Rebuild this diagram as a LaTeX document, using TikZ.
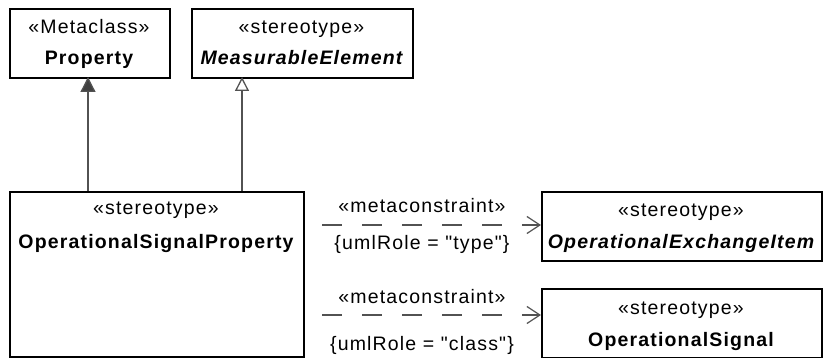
\documentclass[tikz,border=0pt]{standalone}
\usepackage{fontspec}
\setmainfont{Liberation Sans}[LetterSpace=6,Ligatures=TeXOff]
\usetikzlibrary{arrows.meta}
\begin{document}
\begin{tikzpicture}[x=1pt,y=-1pt,
  box/.style={draw=black,line width=1.6pt,inner sep=0pt,anchor=north west},
  txt/.style={font=\fontsize{19.5}{22}\selectfont,anchor=base,inner sep=0pt},
  conn/.style={draw=black!68,line width=1.3pt},
  dashconn/.style={conn,dash pattern=on 20pt off 20pt,-{Straight Barb[length=13pt,width=17pt,line width=1.2pt]}}
]
\useasboundingbox (0,0) rectangle (825,358);
% boxes
\node[box,minimum width=160pt,minimum height=69pt] (prop) at (9,8) {};
\node[box,minimum width=221pt,minimum height=69pt] (meas) at (191,8) {};
\node[box,minimum width=294pt,minimum height=165pt] (osp) at (9,191) {};
\node[box,minimum width=280pt,minimum height=69pt] (oei) at (541,191) {};
\node[box,minimum width=280pt,minimum height=69pt] (os) at (541,288) {};
% texts
\node[txt] (propS) at (89,34) {«Metaclass»};
\node[txt] (propN) at (89,65) {\bfseries Property};
\node[txt] (measS) at (301.5,34) {«stereotype»};
\node[txt] (measN) at (301.5,65) {\bfseries\itshape MeasurableElement};
\node[txt] (ospS) at (156,215) {«stereotype»};
\node[txt] (ospN) at (156,249) {\bfseries OperationalSignalProperty};
\node[txt] (oeiS) at (681,217) {«stereotype»};
\node[txt] (oeiN) at (681,249) {\bfseries\itshape OperationalExchangeItem};
\node[txt] (osS) at (681,314) {«stereotype»};
\node[txt] (osN) at (681,346) {\bfseries OperationalSignal};
% generalization / extension connectors
\coordinate (a1) at (88,191);
\coordinate (a1t) at (88,77);
\coordinate (a2) at (242,191);
\coordinate (a2t) at (242,77);
\draw[conn,-{Triangle[length=15pt,width=15pt,fill=black!75]}] (a1) -- (a1t);
\draw[conn,-{Triangle[open,length=14pt,width=14pt,fill=white]}] (a2) -- (a2t);
% metaconstraints
\coordinate (d1) at (322,225);
\coordinate (d1t) at (541,225);
\coordinate (d2) at (322,315);
\coordinate (d2t) at (541,315);
\draw[dashconn] (d1) -- (d1t);
\draw[dashconn] (d2) -- (d2t);
\node[txt] (l1a) at (422,213) {«metaconstraint»};
\node[txt] (l1b) at (422,250) {\{umlRole = "type"\}};
\node[txt] (l2a) at (422,303) {«metaconstraint»};
\node[txt] (l2b) at (422,350) {\{umlRole = "class"\}};
\end{tikzpicture}
\end{document}
